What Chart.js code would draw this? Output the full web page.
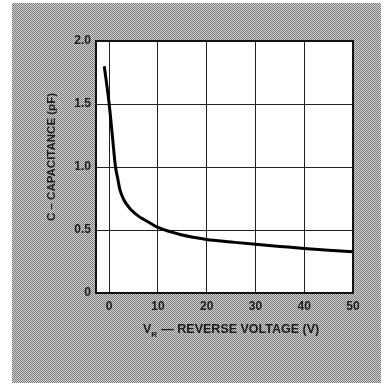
<!DOCTYPE html>
<html>
<head>
<meta charset="utf-8">
<script src="https://cdn.jsdelivr.net/npm/chart.js@4/dist/chart.umd.min.js"></script>
<style>
  html, body { margin: 0; padding: 0; background: #fff; }
  #wrap { width: 387px; height: 385px; position: relative; }
</style>
</head>
<body>
<div id="wrap"><canvas id="chart" width="387" height="385"></canvas></div>
<script>
// reverse voltage (V) and capacitance (pF)
var voltage = [-1.0, 0, 0.6, 1.3, 1.7, 2.2, 3, 4.5, 6, 7.3, 10, 15, 20, 25, 30, 35, 40, 45, 50];
var capacitance = [1.80, 1.50, 1.27, 1.00, 0.92, 0.82, 0.74, 0.66, 0.61, 0.58, 0.52, 0.46, 0.425, 0.405, 0.386, 0.37, 0.354, 0.34, 0.328];
var xTicks = [0, 10, 20, 30, 40, 50];
var yTicks = [0, 0.5, 1.0, 1.5, 2.0];

var points = voltage.map(function (v, i) { return { x: v, y: capacitance[i] }; });

// halftone tile for the grey surround
function halftone(ctx) {
    var tile = document.createElement('canvas');
    tile.width = 2; tile.height = 2;
    var t = tile.getContext('2d');
    t.fillStyle = '#d4d4d4'; t.fillRect(0, 0, 2, 2);
    t.fillStyle = '#7a7a7a'; t.fillRect(0, 0, 1, 1); t.fillRect(1, 1, 1, 1);
    return ctx.createPattern(tile, 'repeat');
}

var frame = {
    id: 'frame',
    beforeDraw: function (chart) {
        var ctx = chart.ctx, a = chart.chartArea;
        ctx.save();
        ctx.fillStyle = '#fff';
        ctx.fillRect(0, 0, chart.width, chart.height);
        ctx.fillStyle = halftone(ctx);
        ctx.fillRect(12, 3, 369, 380);
        ctx.fillStyle = '#fff';
        ctx.fillRect(a.left, a.top, a.right - a.left, a.bottom - a.top);
        ctx.restore();
    },
    afterDraw: function (chart) {
        var ctx = chart.ctx, a = chart.chartArea;
        ctx.save();
        ctx.strokeStyle = '#111';
        ctx.lineWidth = 2;
        ctx.strokeRect(a.left, a.top, a.right - a.left, a.bottom - a.top);

        ctx.fillStyle = '#1c1c1c';
        // x axis title with subscript
        ctx.textBaseline = 'middle';
        ctx.textAlign = 'left';
        ctx.font = 'bold 12.5px "Liberation Sans", Arial, sans-serif';
        var x0 = 143, yT = 330;
        ctx.fillText('V', x0, yT);
        var w = ctx.measureText('V').width;
        ctx.font = 'bold 8px "Liberation Sans", Arial, sans-serif';
        ctx.fillText('R', x0 + w, yT + 5);
        ctx.font = 'bold 12.5px "Liberation Sans", Arial, sans-serif';
        ctx.fillText('\u2014 REVERSE VOLTAGE (V)', x0 + w + 10, yT);

        // y axis title
        ctx.translate(52, 157);
        ctx.rotate(-Math.PI / 2);
        ctx.textAlign = 'center';
        ctx.font = 'bold 11.5px "Liberation Sans", Arial, sans-serif';
        ctx.fillText('C \u2013 CAPACITANCE (pF)', 0, 0);
        ctx.restore();
    }
};

new Chart(document.getElementById('chart'), {
    type: 'line',
    data: {
        datasets: [{
            data: points,
            borderColor: '#000',
            borderWidth: 3,
            pointRadius: 0,
            fill: false,
            cubicInterpolationMode: 'monotone'
        }]
    },
    options: {
        responsive: false,
        animation: false,
        layout: { padding: { left: 0, top: 41, right: 34, bottom: 0 } },
        plugins: { legend: { display: false }, tooltip: { enabled: false } },
        scales: {
            x: {
                type: 'linear',
                min: -2.7,
                max: 50,
                afterBuildTicks: function (axis) {
                    axis.ticks = xTicks.map(function (v) { return { value: v }; });
                },
                afterFit: function (axis) { axis.height = 92; },
                grid: { color: '#222', lineWidth: 1, drawTicks: false },
                border: { display: false },
                ticks: {
                    color: '#1c1c1c',
                    padding: 6,
                    maxRotation: 0,
                    font: { family: '"Liberation Sans", Arial, sans-serif', size: 12, weight: 'bold' },
                    callback: function (v) { return String(v); }
                }
            },
            y: {
                min: 0,
                max: 2,
                afterBuildTicks: function (axis) {
                    axis.ticks = yTicks.map(function (v) { return { value: v }; });
                },
                afterFit: function (axis) { axis.width = 96; },
                grid: { color: '#222', lineWidth: 1, drawTicks: false },
                border: { display: false },
                ticks: {
                    color: '#1c1c1c',
                    padding: 5,
                    font: { family: '"Liberation Sans", Arial, sans-serif', size: 12, weight: 'bold' },
                    callback: function (v) { return v === 0 ? '0' : v.toFixed(1); }
                }
            }
        }
    },
    plugins: [frame]
});
</script>
</body>
</html>
